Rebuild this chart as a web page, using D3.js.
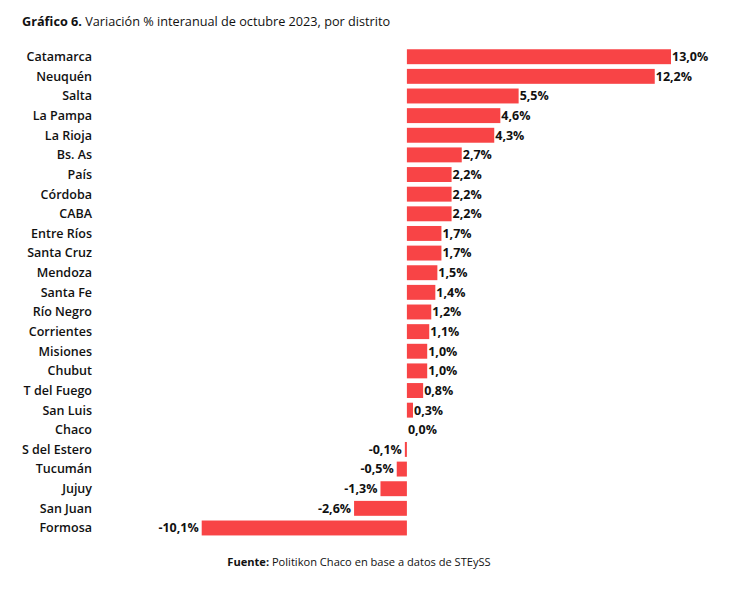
<!DOCTYPE html>
<html><head><meta charset="utf-8">
<script src="https://cdn.jsdelivr.net/npm/d3@7"></script>
<style>
body{margin:0;background:#fff;}
text{font-family:"Open Sans","Noto Sans",sans-serif;}
</style></head>
<body>
<svg id="c" width="749" height="593"></svg>
<script>
const categories = ["Catamarca","Neuquén","Salta","La Pampa","La Rioja","Bs. As","País","Córdoba","CABA","Entre Ríos","Santa Cruz","Mendoza","Santa Fe","Río Negro","Corrientes","Misiones","Chubut","T del Fuego","San Luis","Chaco","S del Estero","Tucumán","Jujuy","San Juan","Formosa"];
const values = [13.0,12.2,5.5,4.6,4.3,2.7,2.2,2.2,2.2,1.7,1.7,1.5,1.4,1.2,1.1,1.0,1.0,0.8,0.3,0.0,-0.1,-0.5,-1.3,-2.6,-10.1];
const titleBold = "Gráfico 6.";
const titleRest = " Variación % interanual de octubre 2023, por distrito";
const sourceBold = "Fuente:";
const sourceRest = " Politikon Chaco en base a datos de STEySS";

const svg = d3.select("#c");
const x = d3.scaleLinear().domain([-10.1, 13.0]).range([201.7, 671]);
const y = d3.scaleBand().domain(categories).range([46.9, 537.8]).paddingInner(0.24).paddingOuter(0.12);
const fmt = v => v.toFixed(1).replace(".", ",") + "%";

const t = svg.append("text").attr("x", 22).attr("y", 26).attr("font-size", 12.7).attr("fill", "#111");
t.append("tspan").attr("font-weight", 700).text(titleBold);
t.append("tspan").text(titleRest);

const rows = categories.map((c, i) => ({c, v: values[i]}));

svg.selectAll("rect.bar").data(rows).join("rect").attr("class","bar")
  .attr("x", d => x(Math.min(0, d.v)))
  .attr("y", d => y(d.c))
  .attr("width", d => Math.abs(x(d.v) - x(0)))
  .attr("height", y.bandwidth())
  .attr("fill", "#f84446");

svg.selectAll("text.cat").data(rows).join("text").attr("class","cat")
  .attr("x", 92).attr("y", d => y(d.c) + y.bandwidth()/2)
  .attr("dy", "0.35em").attr("text-anchor", "end")
  .attr("font-size", 12.5).attr("font-weight", 600).attr("fill", "#111")
  .text(d => d.c);

svg.selectAll("text.val").data(rows).join("text").attr("class","val")
  .attr("x", d => d.v < 0 ? x(d.v) - 3 : x(d.v) + 1)
  .attr("y", d => y(d.c) + y.bandwidth()/2)
  .attr("dy", "0.35em").attr("text-anchor", d => d.v < 0 ? "end" : "start")
  .attr("font-size", 12.5).attr("font-weight", 700).attr("fill", "#111")
  .text(d => fmt(d.v));

const s = svg.append("text").attr("x", 359).attr("y", 566).attr("text-anchor","middle").attr("font-size", 11.1).attr("fill", "#111");
s.append("tspan").attr("font-weight", 700).text(sourceBold);
s.append("tspan").text(sourceRest);
</script>
</body></html>
